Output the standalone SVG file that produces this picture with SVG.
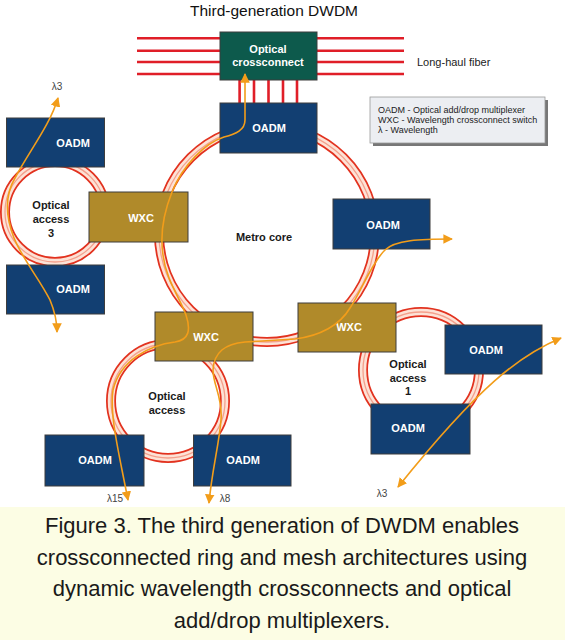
<svg xmlns="http://www.w3.org/2000/svg" width="565" height="640" viewBox="0 0 565 640">
<style>
.ring-o{fill:none;stroke:#e2321f;stroke-width:10}
.ring-i{fill:none;stroke:#fde2d6;stroke-width:6.5}
.ring-c{fill:none;stroke:#f4a08c;stroke-width:1.3}
.fiber{stroke:#e01e28;stroke-width:2.6;fill:none}
.oadm{fill:#123f72;stroke:#3d3d3d;stroke-width:1}
.wxc{fill:#b08a2a;stroke:#3d3d3d;stroke-width:1}
.oxc{fill:#0d5a4c;stroke:#3d3d3d;stroke-width:1}
.nl{font-family:"Liberation Sans",Arial,sans-serif;font-size:11px;font-weight:bold;fill:#ffffff;text-anchor:middle}
.al{font-family:"Liberation Sans",Arial,sans-serif;font-size:11px;font-weight:bold;fill:#1a1a1a;text-anchor:middle}
.lam{font-family:"Liberation Sans",Arial,sans-serif;font-size:10px;fill:#444444;text-anchor:middle}
.leg{font-family:"Liberation Sans",Arial,sans-serif;font-size:9px;fill:#222222}
.path{fill:none;stroke:#f29d1a;stroke-width:1.6;marker-start:url(#ah);marker-end:url(#ah)}
.cap{font-family:"Liberation Sans",Arial,sans-serif;font-size:22px;fill:#1a1a1a;text-anchor:middle}
</style>
<defs>
<marker id="ah" viewBox="0 0 10 10" refX="9" refY="5" markerWidth="6" markerHeight="6" orient="auto-start-reverse" markerUnits="strokeWidth">
<path d="M0,0 L10,5 L0,10 z" fill="#f29d1a"/>
</marker>
</defs>
<rect x="0" y="0" width="565" height="640" fill="#ffffff"/>
<rect x="0" y="507" width="565" height="133" fill="#fcfde4"/>

<text x="274" y="16" font-family="Liberation Sans, Arial, sans-serif" font-size="15.5" fill="#111111" text-anchor="middle">Third-generation DWDM</text>

<g id="connectors">
<line class="fiber" x1="137" y1="38.3" x2="220" y2="38.3"/>
<line class="fiber" x1="137" y1="50.7" x2="220" y2="50.7"/>
<line class="fiber" x1="137" y1="62" x2="220" y2="62"/>
<line class="fiber" x1="137" y1="74" x2="220" y2="74"/>
<line class="fiber" x1="317" y1="38.3" x2="404" y2="38.3"/>
<line class="fiber" x1="317" y1="50.7" x2="404" y2="50.7"/>
<line class="fiber" x1="317" y1="62" x2="404" y2="62"/>
<line class="fiber" x1="317" y1="74" x2="404" y2="74"/>
<line class="fiber" x1="239.6" y1="80" x2="239.6" y2="103"/>
<line class="fiber" x1="254" y1="80" x2="254" y2="103"/>
<line class="fiber" x1="268.5" y1="80" x2="268.5" y2="103"/>
<line class="fiber" x1="283" y1="80" x2="283" y2="103"/>
<line class="fiber" x1="297" y1="80" x2="297" y2="103"/>
<g id="ring-metro">
<circle class="ring-o" cx="267" cy="234" r="108"/><circle class="ring-i" cx="267" cy="234" r="108"/><circle class="ring-c" cx="267" cy="234" r="108"/>
</g>
<g id="ring-access3">
<circle class="ring-o" cx="55" cy="212" r="50"/><circle class="ring-i" cx="55" cy="212" r="50"/><circle class="ring-c" cx="55" cy="212" r="50"/>
</g>
<g id="ring-access">
<circle class="ring-o" cx="168" cy="401" r="57"/><circle class="ring-i" cx="168" cy="401" r="57"/><circle class="ring-c" cx="168" cy="401" r="57"/>
</g>
<g id="ring-access1">
<circle class="ring-o" cx="421" cy="370" r="58"/><circle class="ring-i" cx="421" cy="370" r="58"/><circle class="ring-c" cx="421" cy="370" r="58"/>
</g>
</g>

<text x="417" y="66" font-family="Liberation Sans, Arial, sans-serif" font-size="11" fill="#222222">Long-haul fiber</text>

<g id="legend">
<rect x="373" y="100" width="175" height="46" fill="#777777"/>
<rect x="370" y="97" width="175" height="46" fill="#eceef2" stroke="#9a9a9a" stroke-width="0.8"/>
<text class="leg" x="378" y="113">OADM - Optical add/drop multiplexer</text>
<text class="leg" x="378" y="123">WXC - Wavelength crossconnect switch</text>
<text class="leg" x="378" y="133">λ - Wavelength</text>
</g>

<g id="oxc">
<rect class="oxc" x="220" y="32" width="97" height="48"/>
<text class="nl" x="268" y="53">Optical</text>
<text class="nl" x="268" y="66">crossconnect</text>
</g>
<g id="oadm-top">
<rect class="oadm" x="220" y="103" width="97" height="50"/>
<text class="nl" x="269" y="132">OADM</text>
</g>
<g id="oadm-a3-top">
<rect class="oadm" x="6.5" y="118" width="98" height="49"/>
<text class="nl" x="73" y="147">OADM</text>
</g>
<g id="wxc-left">
<rect class="wxc" x="89" y="192" width="99" height="50"/>
<text class="nl" x="141" y="222">WXC</text>
</g>
<g id="oadm-a3-bottom">
<rect class="oadm" x="6.5" y="265" width="98" height="49"/>
<text class="nl" x="73" y="293">OADM</text>
</g>
<g id="oadm-metro-right">
<rect class="oadm" x="333" y="199" width="97" height="50"/>
<text class="nl" x="383" y="229">OADM</text>
</g>
<g id="wxc-bottom-left">
<rect class="wxc" x="155" y="312" width="98" height="49"/>
<text class="nl" x="206" y="341">WXC</text>
</g>
<g id="wxc-bottom-right">
<rect class="wxc" x="298" y="303" width="98" height="49"/>
<text class="nl" x="349" y="331">WXC</text>
</g>
<g id="oadm-a1-top">
<rect class="oadm" x="445" y="325" width="97" height="49"/>
<text class="nl" x="486" y="354">OADM</text>
</g>
<g id="oadm-a1-bottom">
<rect class="oadm" x="371" y="404" width="99" height="50"/>
<text class="nl" x="408" y="432">OADM</text>
</g>
<g id="oadm-a-left">
<rect class="oadm" x="45" y="435" width="99" height="51"/>
<text class="nl" x="95" y="464">OADM</text>
</g>
<g id="oadm-a-right">
<rect class="oadm" x="193.5" y="435" width="97.5" height="51"/>
<text class="nl" x="243" y="464">OADM</text>
</g>

<g id="area-labels">
<text class="al" x="51" y="209">Optical</text>
<text class="al" x="51" y="223">access</text>
<text class="al" x="51" y="237">3</text>
<text class="al" x="264" y="241">Metro core</text>
<text class="al" x="408" y="368">Optical</text>
<text class="al" x="408" y="382">access</text>
<text class="al" x="408" y="395">1</text>
<text class="al" x="167" y="400">Optical</text>
<text class="al" x="167" y="414">access</text>
</g>

<g id="lightpaths">
<path class="path" d="M245 74 L245 120 C245 130 236 134 224 137 C205 143 183 165 172 192 C164 212 160 235 163 255 C166 280 180 298 186 315 C191 330 189 340 175 342 C150 345 120 360 113 390 C110 410 116 440 122 470 L128 500"/>
<path class="path" d="M452 239 C420 239 395 240 385 250 C372 262 362 290 350 308 C340 325 320 336 295 339 L245 342 C225 344 214 352 213 370 C213 385 223 398 221 420 C219 445 212 470 209 503"/>
<path class="path" d="M58 98 C50 125 30 150 15 178 C5 195 5 215 14 238 C22 258 40 280 50 300 C55 312 57 322 57 332"/>
<path class="path" d="M561 338 C520 355 480 385 398 487"/>
</g>

<g id="lambda-labels">
<text class="lam" x="57" y="90">λ3</text>
<text class="lam" x="115" y="502">λ15</text>
<text class="lam" x="225" y="502">λ8</text>
<text class="lam" x="382" y="497">λ3</text>
</g>

<g id="caption">
<text class="cap" x="282" y="533">Figure 3. The third generation of DWDM enables</text>
<text class="cap" x="282" y="565">crossconnected ring and mesh architectures using</text>
<text class="cap" x="282" y="596">dynamic wavelength crossconnects and optical</text>
<text class="cap" x="282" y="628">add/drop multiplexers.</text>
</g>
</svg>
